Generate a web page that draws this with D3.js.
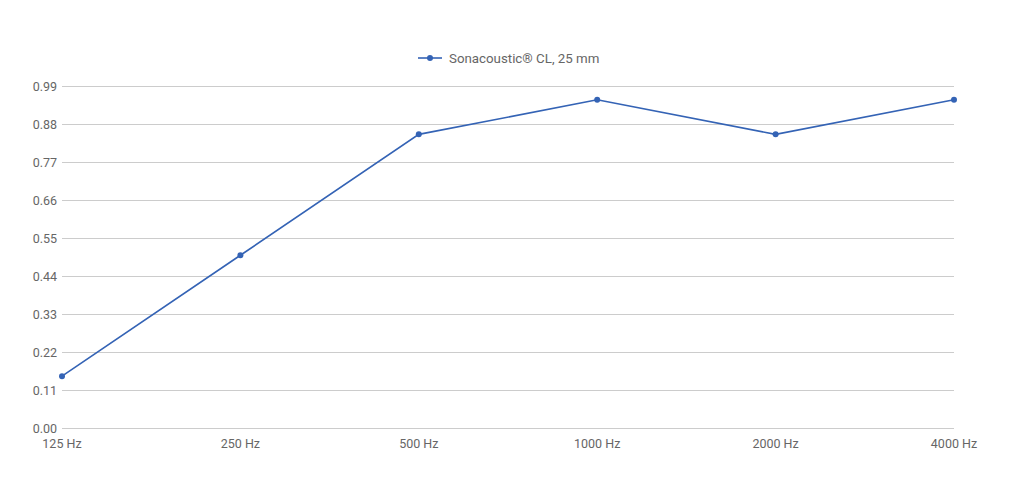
<!DOCTYPE html>
<html><head><meta charset="utf-8">
<script src="https://cdn.jsdelivr.net/npm/d3@7"></script>
<style>body{margin:0;background:#fff}svg{display:block}</style>
</head><body>
<svg id="c" width="1024" height="500"></svg>
<script>
const categories = ["125 Hz","250 Hz","500 Hz","1000 Hz","2000 Hz","4000 Hz"];
const seriesName = "Sonacoustic® CL, 25 mm";
const values = [0.15, 0.50, 0.85, 0.95, 0.85, 0.95];
const yTicks = [0, 0.11, 0.22, 0.33, 0.44, 0.55, 0.66, 0.77, 0.88, 0.99];

const svg = d3.select("#c");
const font = "Roboto, Arial, sans-serif";
const color = "#3463b5";
const x = d3.scalePoint().domain(categories).range([62, 954]);
const y = d3.scaleLinear().domain([0, 0.99]).range([428, 86]);

const g = svg.append("g");
g.selectAll("line.grid").data(yTicks).join("line")
  .attr("x1", 62).attr("x2", 954)
  .attr("y1", d => y(d) + 0.5).attr("y2", d => y(d) + 0.5)
  .attr("stroke", "#cccccc").attr("stroke-width", 1);
g.selectAll("text.yl").data(yTicks).join("text")
  .attr("x", 57).attr("y", d => y(d) + 4.5)
  .attr("text-anchor", "end").attr("font-family", font).attr("font-size", 12.5)
  .attr("fill", "#666").text(d => d.toFixed(2));
g.selectAll("text.xl").data(categories).join("text")
  .attr("x", d => x(d)).attr("y", 448)
  .attr("text-anchor", "middle").attr("font-family", font).attr("font-size", 12.5)
  .attr("fill", "#666").text(d => d);

const line = d3.line().x((d, i) => x(categories[i])).y(d => y(d));
g.append("path").datum(values).attr("d", line)
  .attr("fill", "none").attr("stroke", color).attr("stroke-width", 1.6);
g.selectAll("circle").data(values).join("circle")
  .attr("cx", (d, i) => x(categories[i])).attr("cy", d => y(d)).attr("r", 3)
  .attr("fill", color);

const lg = svg.append("g");
lg.append("line").attr("x1", 418).attr("x2", 442).attr("y1", 58).attr("y2", 58)
  .attr("stroke", color).attr("stroke-width", 1.6);
lg.append("circle").attr("cx", 430).attr("cy", 58).attr("r", 3).attr("fill", color);
lg.append("text").attr("x", 449).attr("y", 62.5).attr("font-family", font)
  .attr("font-size", 13.3).attr("fill", "#666").text(seriesName);
</script>
</body></html>
